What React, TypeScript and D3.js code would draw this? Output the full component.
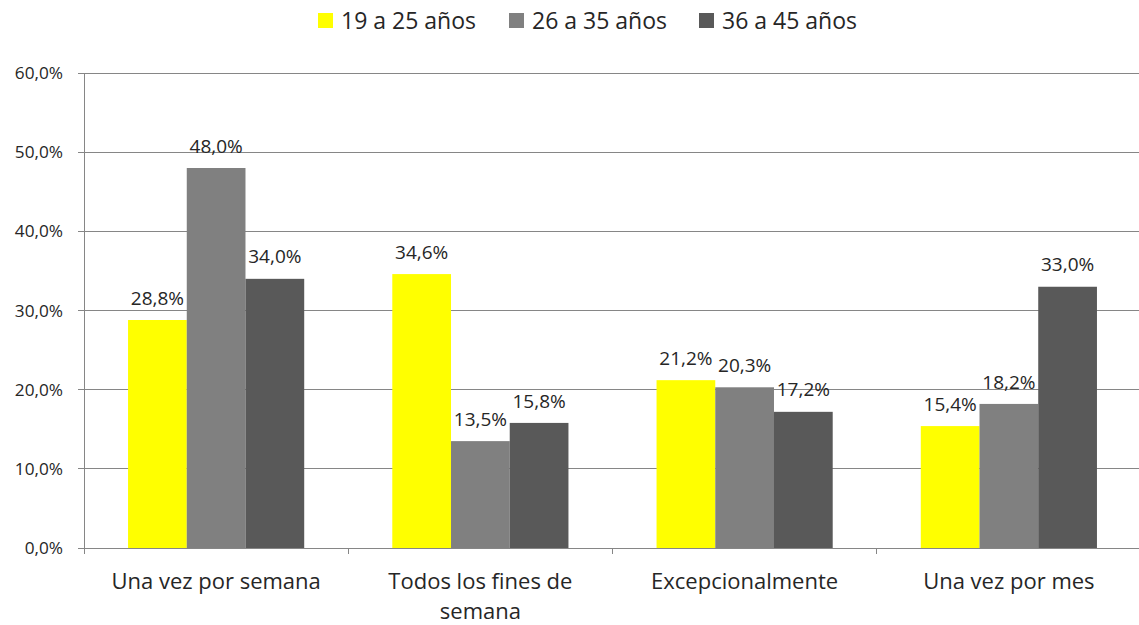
import React, { useEffect, useRef } from "react";
import * as d3 from "d3";

const categories = ["Una vez por semana", "Todos los fines de semana", "Excepcionalmente", "Una vez por mes"];
const categoryLines = [["Una vez por semana"], ["Todos los fines de", "semana"], ["Excepcionalmente"], ["Una vez por mes"]];
const seriesNames = ["19 a 25 años", "26 a 35 años", "36 a 45 años"];
const seriesColors = ["#FFFF00", "#808080", "#595959"];
const s1 = [28.8, 34.6, 21.2, 15.4];
const s2 = [48.0, 13.5, 20.3, 18.2];
const s3 = [34.0, 15.8, 17.2, 33.0];
const yTicks = [0, 10, 20, 30, 40, 50, 60];

const W = 1139, H = 625;
const FONT = "'Open Sans', 'Noto Sans', sans-serif";
const TXT = "#262626";

export default function App() {
  const ref = useRef<SVGSVGElement>(null);
  useEffect(() => {
    const svg = d3.select(ref.current);
    svg.selectAll("*").remove();
    const left = 84, right = 1141, top = 73, bottom = 548;
    const x = d3.scaleBand().domain(categories).range([left, right]).paddingInner(0).paddingOuter(0);
    const y = d3.scaleLinear().domain([0, 60]).range([bottom, top]);
    const series = [s1, s2, s3];
    const fmt = (d: number) => d3.format(".1f")(d).replace(".", ",") + "%";

    // gridlines
    svg.append("g").selectAll("line").data(yTicks).join("line")
      .attr("x1", left - 6).attr("x2", right).attr("y1", d => y(d)).attr("y2", d => y(d))
      .attr("stroke", "#868686").attr("stroke-width", 1).attr("shape-rendering", "crispEdges");
    // left axis
    svg.append("line").attr("x1", left).attr("x2", left).attr("y1", top).attr("y2", bottom)
      .attr("stroke", "#868686").attr("shape-rendering", "crispEdges");
    // y labels
    svg.append("g").selectAll("text").data(yTicks).join("text")
      .attr("x", left - 21).attr("y", d => y(d)).attr("dy", "0.35em").attr("text-anchor", "end")
      .attr("font-family", FONT).attr("font-size", 17.2).attr("fill", TXT)
      .text(fmt);

    // bars
    const bw = x.bandwidth() / 4.5;
    series.forEach((vals, si) => {
      const g = svg.append("g");
      g.selectAll("rect").data(vals).join("rect")
        .attr("x", (d, i) => (x(categories[i]) as number) + bw * 0.75 + si * bw)
        .attr("width", bw)
        .attr("y", d => y(d)).attr("height", d => bottom - y(d))
        .attr("fill", seriesColors[si]);
      g.selectAll("text").data(vals).join("text")
        .attr("x", (d, i) => (x(categories[i]) as number) + bw * 0.75 + si * bw + bw / 2)
        .attr("y", d => y(d) - 22).attr("dy", "0.35em").attr("text-anchor", "middle")
        .attr("font-family", FONT).attr("font-size", 19).attr("fill", TXT)
        .text(fmt);
    });

    // bottom axis
    svg.append("line").attr("x1", left).attr("x2", right).attr("y1", bottom).attr("y2", bottom)
      .attr("stroke", "#868686").attr("shape-rendering", "crispEdges");
    const bounds = categories.map(c => x(c) as number).concat([right]);
    svg.append("g").selectAll("line").data(bounds).join("line")
      .attr("x1", d => d).attr("x2", d => d).attr("y1", bottom).attr("y2", bottom + 6)
      .attr("stroke", "#868686").attr("shape-rendering", "crispEdges");
    // category labels
    categoryLines.forEach((lines, i) => {
      const cx = (x(categories[i]) as number) + x.bandwidth() / 2;
      lines.forEach((ln, li) => {
        svg.append("text").attr("x", cx).attr("y", 581 + li * 30).attr("dy", "0.35em")
          .attr("text-anchor", "middle").attr("font-family", FONT).attr("font-size", 22).attr("fill", TXT)
          .text(ln);
      });
    });

    // legend
    const legendX = [318, 509, 699];
    seriesNames.forEach((n, i) => {
      svg.append("rect").attr("x", legendX[i]).attr("y", 13).attr("width", 15).attr("height", 15).attr("fill", seriesColors[i]);
      svg.append("text").attr("x", legendX[i] + 23).attr("y", 20.5).attr("dy", "0.35em")
        .attr("font-family", FONT).attr("font-size", 23).attr("fill", TXT).text(n);
    });
  }, []);
  return <svg ref={ref} width={W} height={H} style={{ position: "absolute", left: 0, top: 0, background: "#fff" }} />;
}
